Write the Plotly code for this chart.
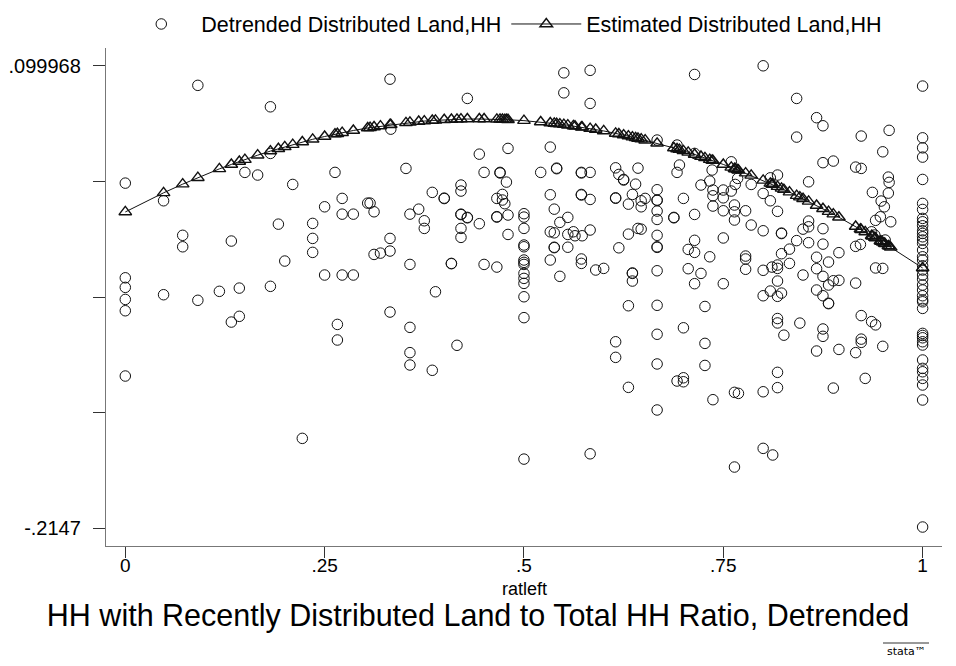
import plotly.graph_objects as go

# ---------------- data ----------------
ratleft = [
    0.091, 0.000, 0.048, 0.072, 0.072, 0.133, 0.000, 0.000, 0.000, 0.000, 0.048, 0.091, 0.118, 0.143, 0.143, 0.133, 0.000, 0.150,
    0.332, 0.182, 0.166, 0.210, 0.263, 0.250, 0.272, 0.272, 0.286, 0.304, 0.307, 0.312, 0.192, 0.235, 0.235, 0.235, 0.200, 0.250,
    0.272, 0.286, 0.312, 0.320, 0.332, 0.332, 0.182, 0.332, 0.266, 0.266, 0.222, 0.182,
    0.429, 0.333, 0.352, 0.444, 0.480, 0.450, 0.470, 0.470, 0.478, 0.385, 0.400, 0.400, 0.421, 0.421, 0.466, 0.473, 0.473, 0.476,
    0.368, 0.357, 0.375, 0.375, 0.421, 0.421, 0.429, 0.429, 0.421, 0.421, 0.444, 0.466, 0.466, 0.480, 0.480, 0.357, 0.409, 0.409,
    0.450, 0.466, 0.389, 0.357, 0.357, 0.357, 0.385, 0.416,
    0.5, 0.5, 0.5, 0.5, 0.5, 0.5, 0.5, 0.5, 0.5, 0.5, 0.5, 0.5, 0.5, 0.5,
    0.550, 0.583, 0.550, 0.583, 0.533, 0.667, 0.521, 0.541, 0.541, 0.572, 0.572, 0.583, 0.615, 0.619, 0.625, 0.625, 0.643, 0.640,
    0.533, 0.572, 0.572, 0.583, 0.615, 0.615, 0.631, 0.636, 0.647, 0.647, 0.652, 0.667, 0.667, 0.667, 0.667, 0.667, 0.667, 0.667,
    0.667, 0.667, 0.667, 0.667, 0.667, 0.667, 0.538, 0.555, 0.545, 0.533, 0.538, 0.555, 0.562, 0.564, 0.573, 0.583, 0.538, 0.538,
    0.555, 0.631, 0.643, 0.647, 0.619, 0.533, 0.572, 0.572, 0.590, 0.600, 0.545, 0.636, 0.636, 0.636, 0.631, 0.615, 0.615, 0.631,
    0.583,
    0.714, 0.800, 0.842, 0.842, 0.692, 0.695, 0.692, 0.714, 0.736, 0.760, 0.722, 0.733, 0.737, 0.737, 0.750, 0.750, 0.760, 0.765,
    0.768, 0.785, 0.800, 0.809, 0.818, 0.809, 0.818, 0.857, 0.700, 0.688, 0.688, 0.714, 0.737, 0.750, 0.764, 0.764, 0.764, 0.778,
    0.785, 0.800, 0.823, 0.823, 0.714, 0.750, 0.706, 0.714, 0.733, 0.778, 0.778, 0.778, 0.706, 0.722, 0.714, 0.750, 0.800, 0.811,
    0.818, 0.818, 0.818, 0.823, 0.833, 0.833, 0.842, 0.850, 0.857, 0.857, 0.850, 0.800, 0.809, 0.818, 0.823, 0.727, 0.818, 0.818,
    0.826, 0.846, 0.700, 0.727, 0.727, 0.692, 0.700, 0.700, 0.737, 0.764, 0.769, 0.800, 0.818, 0.818, 0.800, 0.812, 0.764,
    0.867, 0.875, 0.923, 0.958, 0.950, 0.875, 0.888, 0.916, 0.923, 0.957, 0.958, 0.937, 0.957, 0.948, 0.952, 0.947, 0.941, 0.960,
    0.857, 0.875, 0.936, 0.940, 0.875, 0.895, 0.916, 0.922, 0.953, 0.867, 0.882, 0.867, 0.875, 0.882, 0.888, 0.895, 0.941, 0.950,
    0.916, 0.867, 0.875, 0.882, 0.882, 0.923, 0.936, 0.941, 0.875, 0.875, 0.923, 0.923, 0.867, 0.895, 0.916, 0.950, 0.928, 0.888,
    1.0, 1.0, 1.0, 1.0, 1.0, 1.0, 1.0, 1.0, 1.0, 1.0, 1.0, 1.0, 1.0, 1.0, 1.0, 1.0, 1.0, 1.0, 1.0, 1.0,
    1.0, 1.0, 1.0, 1.0, 1.0, 1.0, 1.0, 1.0, 1.0, 1.0, 1.0, 1.0, 1.0, 1.0, 1.0, 1.0, 1.0, 1.0, 1.0, 1.0,
]
detrended_land = [
    0.0866, 0.0201, 0.0081, -0.0154, -0.0232, -0.0193, -0.0443, -0.0508, -0.0590, -0.0667, -0.0558, -0.0596, -0.0535, -0.0513, -0.0705, -0.0744, -0.1111, 0.0274,
    0.0908, 0.0720, 0.0256, 0.0192, 0.0274, 0.0040, 0.0097, -0.0010, -0.0010, 0.0065, 0.0065, 0.0006, -0.0078, -0.0073, -0.0175, -0.0270, -0.0329, -0.0424,
    -0.0424, -0.0424, -0.0284, -0.0275, -0.0175, -0.0261, -0.0501, -0.0676, -0.0760, -0.0866, -0.1535, 0.0403,
    0.0777, 0.0568, 0.0301, 0.0398, 0.0437, 0.0274, 0.0274, 0.0270, 0.0208, 0.0138, 0.0099, 0.0096, 0.0188, 0.0147, 0.0097, 0.0124, 0.0086, 0.0061,
    0.0024, -0.0010, -0.0055, -0.0107, -0.0010, -0.0013, -0.0032, -0.0035, -0.0107, -0.0168, -0.0075, -0.0030, -0.0027, -0.0016, -0.0148, -0.0352, -0.0347, -0.0345,
    -0.0352, -0.0370, -0.0538, -0.0780, -0.0952, -0.1036, -0.1072, -0.0902,
    -0.0007, -0.0030, -0.0107, -0.0220, -0.0232, -0.0322, -0.0338, -0.0352, -0.0413, -0.0447, -0.0481, -0.0572, -0.0714, -0.1676,
    0.0951, 0.0968, 0.0815, 0.0743, 0.0446, 0.0494, 0.0274, 0.0303, 0.0299, 0.0274, 0.0270, 0.0274, 0.0305, 0.0260, 0.0226, 0.0222, 0.0303, 0.0194,
    0.0122, 0.0124, 0.0120, 0.0090, 0.0101, 0.0098, 0.0058, 0.0124, 0.0081, 0.0040, 0.0097, 0.0156, 0.0086, 0.0083, 0.0011, -0.0046, -0.0154, -0.0232,
    -0.0236, -0.0395, -0.0630, -0.0827, -0.1029, -0.1342, 0.0024, -0.0032, -0.0066, -0.0130, -0.0137, -0.0148, -0.0130, -0.0157, -0.0157, -0.0118, -0.0235, -0.0238,
    -0.0235, -0.0146, -0.0107, -0.0112, -0.0239, -0.0322, -0.0315, -0.0345, -0.0390, -0.0379, -0.0433, -0.0413, -0.0410, -0.0465, -0.0633, -0.0878, -0.0984, -0.1188,
    -0.1640,
    0.0940, 0.0999, 0.0777, 0.0514, 0.0460, 0.0324, 0.0274, 0.0403, 0.0290, 0.0346, 0.0188, 0.0215, 0.0154, 0.0115, 0.0154, 0.0101, 0.0147, 0.0192,
    0.0233, 0.0192, 0.0131, 0.0237, 0.0256, 0.0081, 0.0009, 0.0210, 0.0097, -0.0032, -0.0035, -0.0012, 0.0045, 0.0013, 0.0052, 0.0006, -0.0050, 0.0013,
    -0.0084, -0.0123, -0.0139, -0.0142, -0.0188, -0.0172, -0.0250, -0.0270, -0.0300, -0.0295, -0.0315, -0.0385, -0.0381, -0.0413, -0.0483, -0.0483, -0.0392, -0.0370,
    -0.0356, -0.0379, -0.0465, -0.0279, -0.0248, -0.0345, -0.0190, -0.0112, -0.0057, -0.0204, -0.0424, -0.0565, -0.0533, -0.0569, -0.0547, -0.0638, -0.0720, -0.0750,
    -0.0833, -0.0751, -0.0783, -0.0889, -0.1039, -0.1145, -0.1123, -0.1150, -0.1272, -0.1222, -0.1229, -0.1218, -0.1086, -0.1190, -0.1603, -0.1648, -0.1730,
    0.0646, 0.0591, 0.0521, 0.0560, 0.0414, 0.0340, 0.0351, 0.0310, 0.0301, 0.0242, 0.0206, 0.0138, 0.0133, 0.0079, 0.0040, -0.0028, -0.0052, -0.0062,
    -0.0096, -0.0109, -0.0130, -0.0152, -0.0214, -0.0272, -0.0229, -0.0216, -0.0186, -0.0303, -0.0336, -0.0381, -0.0433, -0.0492, -0.0463, -0.0460, -0.0376, -0.0379,
    -0.0479, -0.0526, -0.0565, -0.0616, -0.0619, -0.0700, -0.0741, -0.0763, -0.0791, -0.0841, -0.0860, -0.0882, -0.0941, -0.0930, -0.0952, -0.0909, -0.1127, -0.1193,
    0.0861, 0.0509, 0.0441, 0.0378, 0.0226, 0.0063, 0.0022, -0.0039, -0.0062, -0.0089, -0.0123, -0.0141, -0.0164, -0.0186, -0.0209, -0.0254, -0.0300, -0.0322, -0.0361, -0.0390,
    -0.0424, -0.0452, -0.0492, -0.0526, -0.0565, -0.0594, -0.0606, -0.0651, -0.0821, -0.0835, -0.0851, -0.0878, -0.0900, -0.1002, -0.1059, -0.1082, -0.1127, -0.1172, -0.1274, -0.2138,
]

est_x = [
    0.000, 0.048, 0.072, 0.091, 0.118, 0.133, 0.143, 0.150, 0.166, 0.182, 0.192, 0.200, 0.210, 0.222, 0.235, 0.250, 0.263, 0.266,
    0.272, 0.286, 0.304, 0.307, 0.312, 0.320, 0.332, 0.333, 0.352, 0.357, 0.368, 0.375, 0.385, 0.389, 0.400, 0.409, 0.416, 0.421,
    0.429, 0.444, 0.450, 0.466, 0.470, 0.473, 0.476, 0.478, 0.480, 0.500, 0.521, 0.533, 0.538, 0.541, 0.545, 0.550, 0.555, 0.562,
    0.564, 0.572, 0.573, 0.583, 0.590, 0.600, 0.615, 0.619, 0.625, 0.631, 0.636, 0.640, 0.643, 0.647, 0.652, 0.667, 0.688, 0.692,
    0.695, 0.700, 0.706, 0.714, 0.722, 0.727, 0.733, 0.736, 0.737, 0.750, 0.760, 0.764, 0.765, 0.768, 0.769, 0.778, 0.785, 0.800,
    0.809, 0.811, 0.812, 0.818, 0.823, 0.826, 0.833, 0.842, 0.846, 0.850, 0.857, 0.867, 0.875, 0.882, 0.888, 0.895, 0.916, 0.922,
    0.923, 0.928, 0.936, 0.937, 0.940, 0.941, 0.947, 0.948, 0.950, 0.952, 0.953, 0.957, 0.958, 0.960, 1.000,
]
estimated_land = [
    0.0005, 0.0135, 0.0194, 0.0238, 0.0298, 0.0328, 0.0348, 0.0361, 0.0391, 0.0419, 0.0435, 0.0448, 0.0463, 0.0481, 0.0499, 0.0518, 0.0534, 0.0537,
    0.0544, 0.0559, 0.0576, 0.0578, 0.0583, 0.0589, 0.0598, 0.0599, 0.0611, 0.0614, 0.0620, 0.0623, 0.0627, 0.0628, 0.0632, 0.0634, 0.0635, 0.0636,
    0.0637, 0.0637, 0.0637, 0.0635, 0.0635, 0.0634, 0.0633, 0.0633, 0.0632, 0.0626, 0.0617, 0.0610, 0.0607, 0.0605, 0.0602, 0.0599, 0.0595, 0.0590,
    0.0588, 0.0582, 0.0581, 0.0572, 0.0566, 0.0556, 0.0539, 0.0535, 0.0528, 0.0521, 0.0514, 0.0509, 0.0505, 0.0500, 0.0493, 0.0472, 0.0440, 0.0433,
    0.0429, 0.0420, 0.0410, 0.0396, 0.0382, 0.0373, 0.0361, 0.0356, 0.0354, 0.0328, 0.0308, 0.0299, 0.0297, 0.0291, 0.0289, 0.0269, 0.0254, 0.0220,
    0.0199, 0.0194, 0.0192, 0.0177, 0.0165, 0.0157, 0.0140, 0.0116, 0.0106, 0.0095, 0.0077, 0.0049, 0.0027, 0.0007, -0.0010, -0.0031, -0.0094, -0.0112,
    -0.0116, -0.0131, -0.0157, -0.0160, -0.0170, -0.0173, -0.0193, -0.0196, -0.0202, -0.0209, -0.0212, -0.0226, -0.0229, -0.0236, -0.0376,
]

y_tick_vals = [0.099968, 0.021301, -0.057366, -0.136033, -0.2147]
y_tick_text = [".099968", "", "", "", "-.2147"]
x_tick_vals = [0, 0.25, 0.5, 0.75, 1]
x_tick_text = ["0", ".25", ".5", ".75", "1"]

FONT = "Liberation Sans, Arial, Helvetica, sans-serif"

fig = go.Figure()
fig.add_trace(go.Scatter(
    x=ratleft, y=detrended_land, mode="markers",
    name="Detrended Distributed Land,HH",
    marker=dict(symbol="circle-open", size=10.5, color="#111111", line=dict(width=1)),
))
fig.add_trace(go.Scatter(
    x=est_x, y=estimated_land, mode="lines+markers",
    name="Estimated Distributed Land,HH",
    line=dict(color="#111111", width=1),
    marker=dict(symbol="triangle-up-open", size=11, color="#111111", line=dict(width=1.4)),
))

fig.update_layout(
    width=956, height=666,
    margin=dict(l=106, r=14, t=48, b=120, autoexpand=False),
    paper_bgcolor="white", plot_bgcolor="white",
    font=dict(family=FONT, color="black", size=19),
    showlegend=True,
    legend=dict(orientation="h", xref="container", yref="container",
                x=0.5275, xanchor="center", y=1 - 24 / 666, yanchor="middle",
                font=dict(size=21.5), itemwidth=70, bgcolor="rgba(0,0,0,0)"),
    title=dict(text="HH with Recently Distributed Land to Total HH Ratio, Detrended",
               x=0.5, xref="container", xanchor="center",
               y=1 - 615 / 666, yref="container", yanchor="middle",
               font=dict(size=30.5, family=FONT, color="black")),
    xaxis=dict(range=[-0.0242, 1.0243], tickvals=x_tick_vals, ticktext=x_tick_text,
               showgrid=False, zeroline=False, showline=True, linecolor="#777777", linewidth=1.3,
               ticks="outside", ticklen=11, tickcolor="#333333", tickwidth=1.3,
               tickfont=dict(size=19), ticklabelstandoff=-9),
    yaxis=dict(range=[-0.2267, 0.1120], tickvals=y_tick_vals, ticktext=y_tick_text,
               showgrid=False, zeroline=False, showline=True, linecolor="#777777", linewidth=1.3,
               ticks="outside", ticklen=12, tickcolor="#333333", tickwidth=1.3,
               tickfont=dict(size=20), ticklabelstandoff=8),
    annotations=[
        dict(text="ratleft", xref="paper", yref="paper", x=0.5, y=-(589 - 546) / 498,
             xanchor="center", yanchor="middle", showarrow=False, font=dict(size=18)),
        dict(text="stata\u2122", xref="paper", yref="paper", x=(906 - 106) / 836, y=-(651 - 546) / 498,
             xanchor="center", yanchor="middle", showarrow=False,
             font=dict(size=11, family="DejaVu Sans")),
    ],
    shapes=[
        dict(type="line", xref="paper", yref="paper",
             x0=(883 - 106) / 836, x1=(929 - 106) / 836,
             y0=-(643 - 546) / 498, y1=-(643 - 546) / 498,
             line=dict(color="#333333", width=1)),
    ],
)

fig.write_html("out.html", config={"displayModeBar": False},
               post_script="document.body.style.margin='0px';")
